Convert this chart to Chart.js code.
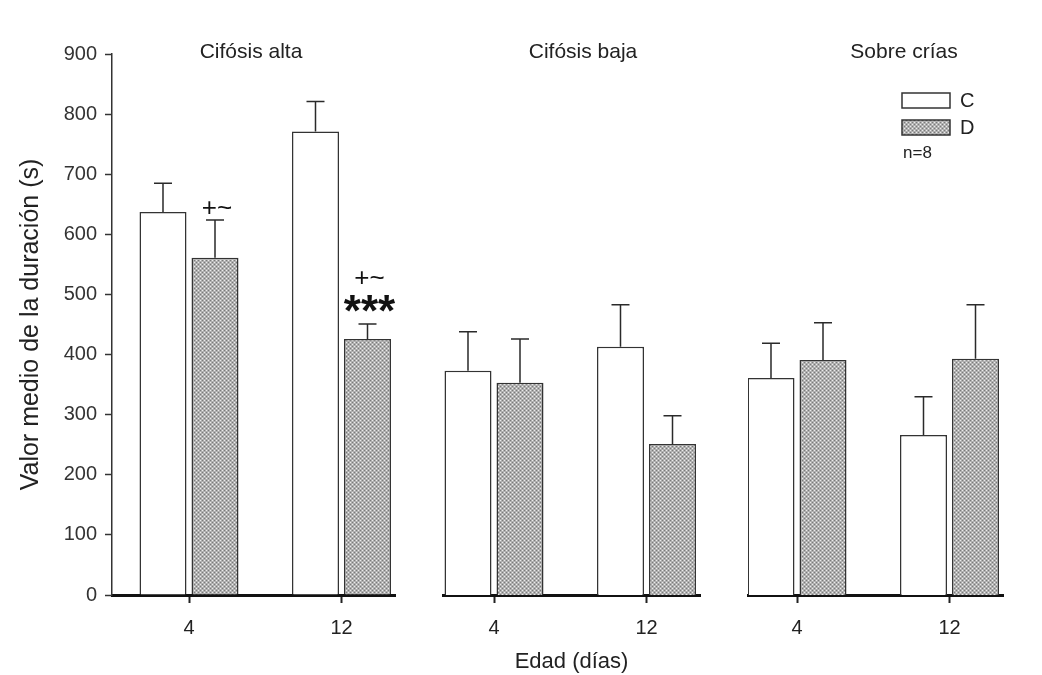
<!DOCTYPE html>
<html>
<head>
<meta charset="utf-8">
<script src="https://cdn.jsdelivr.net/npm/chart.js@4.4.1/dist/chart.umd.min.js"></script>
<style>
  html, body { margin: 0; padding: 0; background: #fff; }
  #wrap { position: relative; width: 1042px; height: 675px; overflow: hidden; background: #fff; }
  #wrap canvas { position: absolute; top: 0; }
</style>
</head>
<body>
<div id="wrap">
  <canvas id="p0" width="400" height="675" style="left:0px"></canvas>
  <canvas id="p1" width="300" height="675" style="left:420px"></canvas>
  <canvas id="p2" width="322" height="675" style="left:720px"></canvas>
</div>
<script>
// ---- data ----
const AGES = [4, 12];
const AGE_LABELS = ['4', '12'];
const GROUPS = ['Cifósis alta', 'Cifósis baja', 'Sobre crías'];
const SERIES = ['C', 'D'];
const Y_TICKS = [0, 100, 200, 300, 400, 500, 600, 700, 800, 900];
const N_LABEL = 'n=8';
const X_TITLE = 'Edad (días)';
const Y_TITLE = 'Valor medio de la duración (s)';

// mean duration (s) per age
const ALTA_C = [637, 771];
const ALTA_D = [561, 426];
const BAJA_C = [373, 413];
const BAJA_D = [353, 251];
const CRIAS_C = [361, 266];
const CRIAS_D = [391, 393];

// standard error of the mean (s)
const ALTA_C_SEM = [48, 50];
const ALTA_D_SEM = [63, 25];
const BAJA_C_SEM = [65, 70];
const BAJA_D_SEM = [73, 47];
const CRIAS_C_SEM = [58, 64];
const CRIAS_D_SEM = [62, 90];

// significance marks above the D bars (top line first)
const ALTA_D_SIG = [['+~'], ['+~', '***']];

const PANELS = [
  { title: GROUPS[0], c: ALTA_C, cErr: ALTA_C_SEM, d: ALTA_D, dErr: ALTA_D_SEM, dSig: ALTA_D_SIG },
  { title: GROUPS[1], c: BAJA_C, cErr: BAJA_C_SEM, d: BAJA_D, dErr: BAJA_D_SEM, dSig: null },
  { title: GROUPS[2], c: CRIAS_C, cErr: CRIAS_C_SEM, d: CRIAS_D, dErr: CRIAS_D_SEM, dSig: null }
];

// ---- layout (page pixels) ----
const FONT = "'Liberation Sans', Arial, Helvetica, sans-serif";
const INK = '#222';
const PLOT_TOP = 54, PLOT_BOTTOM = 595, PAGE_H = 675;
const TICK_GAP = 152.5;               // pixels between the two ages
const FRAMES = [
  { canvasLeft: 0,   width: 400, left: 112, right: 395,  firstTick: 189, titleX: 251 },
  { canvasLeft: 420, width: 300, left: 443, right: 700,  firstTick: 494, titleX: 583 },
  { canvasLeft: 720, width: 322, left: 748, right: 1003, firstTick: 797, titleX: 904 }
];

Chart.defaults.font.family = FONT;
Chart.defaults.color = INK;

function dotFill(ctx) {
  const t = document.createElement('canvas');
  t.width = 4; t.height = 4;
  const g = t.getContext('2d');
  g.fillStyle = '#b0b0b0'; g.fillRect(0, 0, 4, 4);
  g.fillStyle = '#ececec'; g.fillRect(0, 0, 1, 1); g.fillRect(2, 2, 1, 1);
  g.fillStyle = '#7a7a7a'; g.fillRect(2, 0, 1, 1); g.fillRect(0, 2, 1, 1);
  return ctx.createPattern(t, 'repeat');
}

// upward-only error bars with a cap
const errorBars = {
  id: 'errorBars',
  afterDatasetsDraw(chart) {
    const ctx = chart.ctx, y = chart.scales.y;
    ctx.save();
    ctx.strokeStyle = '#2a2a2a';
    ctx.lineWidth = 1.5;
    chart.data.datasets.forEach((ds, i) => {
      const meta = chart.getDatasetMeta(i);
      meta.data.forEach((bar, j) => {
        const top = y.getPixelForValue(ds.data[j].y + ds.sem[j]);
        ctx.beginPath();
        ctx.moveTo(bar.x, bar.y);
        ctx.lineTo(bar.x, top);
        ctx.moveTo(bar.x - 9, top);
        ctx.lineTo(bar.x + 9, top);
        ctx.stroke();
      });
    });
    ctx.restore();
  }
};

// significance symbols stacked above the error bar
const sigMarks = {
  id: 'sigMarks',
  afterDatasetsDraw(chart) {
    const ctx = chart.ctx, y = chart.scales.y;
    chart.data.datasets.forEach((ds, i) => {
      if (!ds.sig) return;
      const meta = chart.getDatasetMeta(i);
      meta.data.forEach((bar, j) => {
        const lines = ds.sig[j];
        if (!lines) return;
        let cy = y.getPixelForValue(ds.data[j].y + ds.sem[j]);
        for (let k = lines.length - 1; k >= 0; k--) {
          const s = lines[k];
          const star = s.indexOf('*') >= 0;
          ctx.save();
          ctx.font = star ? 'bold 44px ' + FONT : '26px ' + FONT;
          ctx.fillStyle = '#111';
          ctx.textAlign = 'center';
          ctx.textBaseline = 'alphabetic';
          const m = ctx.measureText(s);
          const gap = k === lines.length - 1 ? (star ? 12 : 6) : 11;
          const base = cy - gap - m.actualBoundingBoxDescent;
          ctx.fillText(s, bar.x + 2, base);
          cy = base - m.actualBoundingBoxAscent;
          ctx.restore();
        }
      });
    });
  }
};

// panel heading
const panelTitle = {
  id: 'panelTitle',
  afterDraw(chart, args, opts) {
    const ctx = chart.ctx;
    ctx.save();
    ctx.font = '21px ' + FONT;
    ctx.fillStyle = INK;
    ctx.textAlign = 'center';
    ctx.textBaseline = 'middle';
    ctx.fillText(opts.text, opts.x, 52);
    ctx.restore();
  }
};

// legend box for C / D and sample size
const keyBox = {
  id: 'keyBox',
  afterDraw(chart, args, opts) {
    if (!opts.show) return;
    const ctx = chart.ctx;
    const x0 = 902 - opts.offset;
    ctx.save();
    chart.data.datasets.forEach((ds, i) => {
      const top = 93 + i * 27;
      ctx.fillStyle = ds.backgroundColor;
      ctx.fillRect(x0, top, 48, 15);
      ctx.strokeStyle = ds.borderColor;
      ctx.lineWidth = 1.5;
      ctx.strokeRect(x0, top, 48, 15);
      ctx.fillStyle = INK;
      ctx.font = '20px ' + FONT;
      ctx.textAlign = 'left';
      ctx.textBaseline = 'middle';
      ctx.fillText(ds.label, x0 + 58, top + 8);
    });
    ctx.font = '17px ' + FONT;
    ctx.textAlign = 'left';
    ctx.textBaseline = 'middle';
    ctx.fillText(N_LABEL, x0 + 1, 153);
    ctx.restore();
  }
};

PANELS.forEach((p, k) => {
  const f = FRAMES[k];
  const canvas = document.getElementById('p' + k);
  const ctx = canvas.getContext('2d');
  const pxPerUnit = TICK_GAP / (AGES[1] - AGES[0]);
  const xMin = AGES[0] - (f.firstTick - f.left) / pxPerUnit;
  const xMax = AGES[0] + (f.right - f.firstTick) / pxPerUnit;
  const showY = k === 0;

  new Chart(ctx, {
    type: 'bar',
    data: {
      datasets: [
        {
          label: SERIES[0],
          data: AGES.map((a, i) => ({ x: a, y: p.c[i] })),
          sem: p.cErr,
          backgroundColor: '#ffffff',
          borderColor: '#333333',
          borderWidth: 1.5
        },
        {
          label: SERIES[1],
          data: AGES.map((a, i) => ({ x: a, y: p.d[i] })),
          sem: p.dErr,
          sig: p.dSig,
          backgroundColor: dotFill(ctx),
          borderColor: '#333333',
          borderWidth: 1.5
        }
      ]
    },
    options: {
      responsive: false,
      animation: false,
      devicePixelRatio: 1,
      categoryPercentage: 0.682,
      barPercentage: 0.904,
      layout: {
        padding: {
          top: PLOT_TOP,
          bottom: 0,
          left: showY ? 0 : f.left - f.canvasLeft,
          right: f.canvasLeft + f.width - f.right
        }
      },
      scales: {
        x: {
          type: 'linear',
          min: xMin,
          max: xMax,
          offset: false,
          afterBuildTicks: s => { s.ticks = AGES.map(v => ({ value: v })); },
          afterFit: s => {
            s.height = PAGE_H - PLOT_BOTTOM;
            s.paddingLeft = 0;
            s.paddingRight = 0;
          },
          ticks: {
            callback: v => AGE_LABELS[AGES.indexOf(v)],
            font: { size: 20 },
            color: INK,
            padding: 13,
            maxRotation: 0,
            autoSkip: false
          },
          grid: {
            offset: false,
            drawOnChartArea: false,
            drawTicks: true,
            tickLength: 8,
            tickWidth: 2,
            tickColor: '#222'
          },
          border: { display: true, color: '#111', width: 3 },
          title: {
            display: k === 1,
            text: X_TITLE,
            font: { size: 22 },
            color: INK,
            padding: { top: 0, bottom: 0 }
          }
        },
        y: {
          display: showY,
          min: 0,
          max: 900,
          afterBuildTicks: s => { s.ticks = Y_TICKS.map(v => ({ value: v })); },
          afterFit: s => { s.width = showY ? f.left - f.canvasLeft : 0; },
          ticks: {
            font: { size: 20 },
            color: '#333',
            padding: 8
          },
          grid: {
            drawOnChartArea: false,
            drawTicks: true,
            tickLength: 7,
            tickWidth: 1.5,
            tickColor: '#333'
          },
          border: { display: true, color: '#333', width: 1.5 },
          title: {
            display: showY,
            text: Y_TITLE,
            font: { size: 25 },
            color: INK,
            padding: { top: 16, bottom: 0 }
          }
        }
      },
      plugins: {
        legend: { display: false },
        tooltip: { enabled: false },
        panelTitle: { text: p.title, x: f.titleX - f.canvasLeft },
        keyBox: { show: k === 2, offset: f.canvasLeft }
      }
    },
    plugins: [errorBars, sigMarks, panelTitle, keyBox]
  });
});
</script>
</body>
</html>
